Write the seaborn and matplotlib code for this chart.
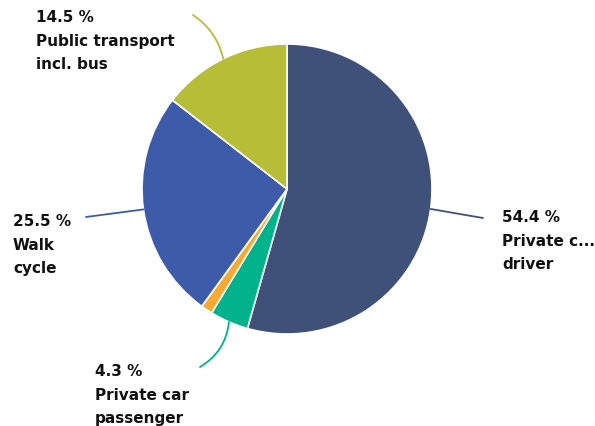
import matplotlib
matplotlib.use("Agg")
import matplotlib.pyplot as plt
import seaborn as sns
import numpy as np

sns.set_theme(style="white")
plt.rcParams['font.family'] = ['DejaVu Sans']

categories = ["Private c...\ndriver", "Private car\npassenger", "Other", "Walk\ncycle", "Public transport\nincl. bus"]
values = [54.4, 4.3, 1.3, 25.5, 14.5]
colors = ["#3f5079", "#00b38a", "#f7a932", "#3d5ba9", "#b6bd36"]
show_label = [True, True, False, True, True]

fig = plt.figure(figsize=(5.95, 4.27), dpi=100)
R = 145
ax = fig.add_axes([(287 - R) / 595, (427 - 190 - R) / 427, 2 * R / 595, 2 * R / 427])
wedges, _ = ax.pie(values, colors=colors, startangle=90, counterclock=False, radius=1,
                   wedgeprops=dict(edgecolor="white", linewidth=1.2))
ax.set_xlim(-1, 1)
ax.set_ylim(-1, 1)
ax.set_aspect("equal")
ax.axis("off")

def px(x, y):
    return ((x - 287) / R, (190 - y) / R)

# label placement (text anchor, connector end, curvature)
layout = {
    0: dict(text=(502, 210), end=(483, 219), rad=0.0),
    1: dict(text=(95, 364), end=(200, 368), rad=0.25),
    3: dict(text=(13, 214), end=(86, 218), rad=0.0),
    4: dict(text=(36, 10), end=(193, 16), rad=-0.2),
}

total = sum(values)
cum = 0
for i, (v, c) in enumerate(zip(values, colors)):
    mid = cum + v / 2
    cum += v
    if not show_label[i]:
        continue
    ang = np.deg2rad(90 - mid / total * 360)
    edge = (np.cos(ang), np.sin(ang))
    L = layout[i]
    ex, ey = px(*L["end"])
    ax.annotate("", xy=edge, xytext=(ex, ey),
                arrowprops=dict(arrowstyle="-", color=c, lw=1.3,
                                connectionstyle=f"arc3,rad={L['rad']}",
                                shrinkA=0, shrinkB=0),
                annotation_clip=False)
    tx, ty = px(*L["text"])
    ax.text(tx, ty, f"{v} %\n{categories[i]}", ha="left", va="top",
            fontsize=11, fontweight="bold", color="#111111",
            linespacing=1.72, clip_on=False)

fig.savefig("out.png", dpi=100)
